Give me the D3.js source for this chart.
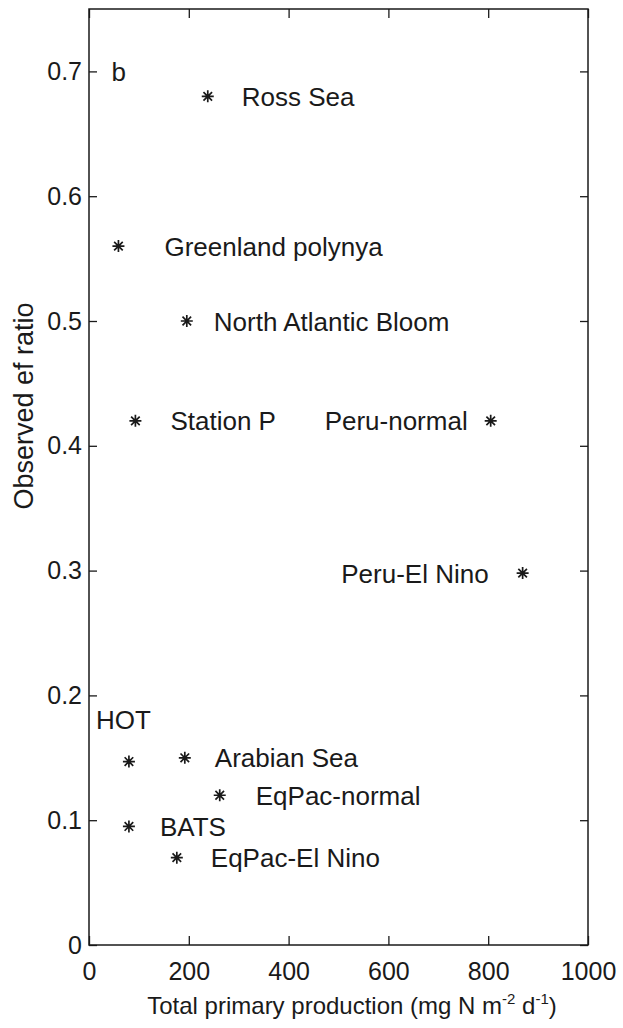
<!DOCTYPE html>
<html lang="en">
<head>
<meta charset="UTF-8">
<title>ef ratio vs primary production</title>
<style>
body {
    margin: 0;
    background-color: #fff;
}
svg {
    display: block;
    font-family: "Liberation Sans", Arial, sans-serif;
}
</style>
</head>
<body>
<div id="plot"></div>
<script src="https://cdn.jsdelivr.net/npm/d3@7"></script>
<script>

const w = 623,
      h = 1028;

// data
const sites = ["Ross Sea", "Greenland polynya", "North Atlantic Bloom", "Station P",
               "Peru-normal", "Peru-El Nino", "HOT", "Arabian Sea",
               "EqPac-normal", "BATS", "EqPac-El Nino"];
const production = [238, 59, 196, 93, 805, 869, 80, 192, 262, 80, 176];
const efRatio = [0.68, 0.56, 0.50, 0.42, 0.42, 0.298, 0.147, 0.15, 0.12, 0.095, 0.07];

const xTicks = [0, 200, 400, 600, 800, 1000];
const yTicks = [0, 0.1, 0.2, 0.3, 0.4, 0.5, 0.6, 0.7];

// where each label sits relative to its star: [dx, dy, anchor]
const labelPlace = {
    "Ross Sea": [34, 0, "start"],
    "Greenland polynya": [46, 0, "start"],
    "North Atlantic Bloom": [27, 0, "start"],
    "Station P": [35, 0, "start"],
    "Peru-normal": [-23, 0, "end"],
    "Peru-El Nino": [-34, 0, "end"],
    "HOT": [-33, -42, "start"],
    "Arabian Sea": [30, 0, "start"],
    "EqPac-normal": [36, 0, "start"],
    "BATS": [31, 0, "start"],
    "EqPac-El Nino": [34, 0, "start"]
};

const points = sites.map((s, i) => ({name: s, x: production[i], y: efRatio[i]}));

const mLeft = 89, mRight = 588, mTop = 9, mBottom = 945;

const x = d3.scaleLinear().domain([0, 1000]).range([mLeft, mRight]);
const y = d3.scaleLinear().domain([0, 0.75]).range([mBottom, mTop]);

const svg = d3.select("#plot").append("svg")
    .attr("width", w)
    .attr("height", h);

svg.append("rect")
    .attr("width", w)
    .attr("height", h)
    .attr("fill", "#fff");

const ink = "#1a1a1a";

// axes with inward ticks on all four sides
const gx = svg.append("g")
    .attr("transform", `translate(0,${mBottom})`)
    .call(d3.axisBottom(x).tickValues(xTicks).tickSize(-9).tickPadding(17).tickFormat(d3.format("d")));

const gy = svg.append("g")
    .attr("transform", `translate(${mLeft},0)`)
    .call(d3.axisLeft(y).tickValues(yTicks).tickSize(-8).tickPadding(7).tickFormat(d => d === 0 ? "0" : d3.format(".1f")(d)));

const gxTop = svg.append("g")
    .attr("transform", `translate(0,${mTop})`)
    .call(d3.axisTop(x).tickValues(xTicks).tickSize(-9).tickFormat(""));

const gyRight = svg.append("g")
    .attr("transform", `translate(${mRight},0)`)
    .call(d3.axisRight(y).tickValues(yTicks).tickSize(-8).tickFormat(""));

[gx, gy, gxTop, gyRight].forEach(g => {
    g.attr("font-family", "Liberation Sans, Arial, sans-serif")
        .attr("font-size", 25)
        .attr("color", ink);
    g.select(".domain").remove();
    g.selectAll(".tick line").attr("stroke-width", 1.3);
});

// frame
svg.append("rect")
    .attr("x", mLeft)
    .attr("y", mTop)
    .attr("width", mRight - mLeft)
    .attr("height", mBottom - mTop)
    .attr("fill", "none")
    .attr("stroke", ink)
    .attr("stroke-width", 1.5);

// star markers
const star = "M-6,0H6M0,-6V6M-4.3,-4.3L4.3,4.3M-4.3,4.3L4.3,-4.3";

svg.selectAll(".star")
    .data(points)
    .join("path")
    .attr("class", "star")
    .attr("transform", d => `translate(${x(d.x)},${y(d.y)})`)
    .attr("d", star)
    .attr("stroke", ink)
    .attr("stroke-width", 1.7)
    .attr("fill", "none");

svg.selectAll(".site")
    .data(points)
    .join("text")
    .attr("class", "site")
    .attr("x", d => x(d.x) + labelPlace[d.name][0])
    .attr("y", d => y(d.y) + labelPlace[d.name][1])
    .attr("dy", "0.37em")
    .attr("text-anchor", d => labelPlace[d.name][2])
    .attr("font-size", 26)
    .attr("fill", ink)
    .text(d => d.name);

// panel letter
svg.append("text")
    .attr("x", x(45))
    .attr("y", y(0.7))
    .attr("dy", "0.36em")
    .attr("font-size", 26)
    .attr("fill", ink)
    .text("b");

// axis titles
const xTitle = svg.append("text")
    .attr("x", 352)
    .attr("y", 1014)
    .attr("text-anchor", "middle")
    .attr("font-size", 24)
    .attr("fill", ink);
xTitle.append("tspan").text("Total primary production (mg N m");
xTitle.append("tspan").attr("font-size", 15).attr("dy", -10).text("-2");
xTitle.append("tspan").attr("dy", 10).text(" d");
xTitle.append("tspan").attr("font-size", 15).attr("dy", -10).text("-1");
xTitle.append("tspan").attr("dy", 10).text(")");

svg.append("text")
    .attr("transform", "translate(33,406) rotate(-90)")
    .attr("text-anchor", "middle")
    .attr("font-size", 27)
    .attr("fill", ink)
    .text("Observed ef ratio");

</script>
</body>
</html>
